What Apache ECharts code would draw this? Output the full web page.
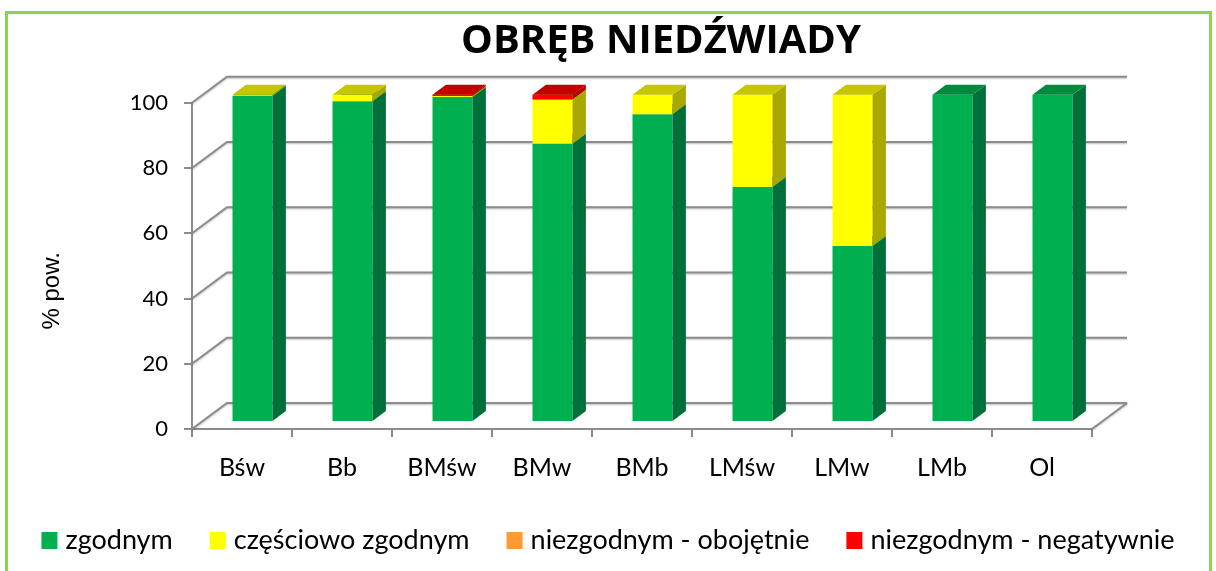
<!DOCTYPE html>
<html>
<head>
<meta charset="utf-8">
<script src="https://cdn.jsdelivr.net/npm/echarts@6/dist/echarts.min.js"></script>
<style>
  html, body { margin: 0; padding: 0; background: #fff; }
  #chart { width: 1216px; height: 571px; }
</style>
</head>
<body>
<div id="chart"></div>
<script>
// Forest site types and the share of area (%) by habitat compatibility
const categories = ['Bśw', 'Bb', 'BMśw', 'BMw', 'BMb', 'LMśw', 'LMw', 'LMb', 'Ol'];
const zgodnym    = [99.7, 98.0, 99.3, 85.0, 94.0, 71.7, 53.6, 100, 100];
const czesciowo  = [0.3, 2.0, 0.3, 13.55, 6.0, 28.3, 46.4, 0, 0];
const obojetnie  = [0, 0, 0, 0, 0, 0, 0, 0, 0];
const negatywnie = [0, 0, 0.4, 1.45, 0, 0, 0, 0, 0];
const yTicks = [0, 20, 40, 60, 80, 100];

const seriesNames = ['zgodnym', 'częściowo zgodnym', 'niezgodnym - obojętnie', 'niezgodnym - negatywnie'];
const seriesValues = [zgodnym, czesciowo, obojetnie, negatywnie];

// face colours: front, side, top
const palettes = [
  { front: '#00B050', side: '#00703A', top: '#008A3E' },
  { front: '#FFFF00', side: '#A8A800', top: '#C6C600' },
  { front: '#FF9933', side: '#B06A22', top: '#CC7A29' },
  { front: '#FF0000', side: '#B00000', top: '#C20000' }
];

// pseudo-3D geometry
const DEPTH_X = 35, DEPTH_Y = -26;        // floor / wall depth
const FRONT_X = 10.5, FRONT_Y = -8;       // bar front face offset into the depth
const SIDE_X = 13.4, SIDE_Y = -10;        // bar thickness
const GRID_COLOR = '#8C8C8C';

// cumulative stacking
const stacked = [];
const running = categories.map(() => 0);
seriesValues.forEach((vals) => {
  stacked.push(vals.map((v, i) => {
    const lo = running[i];
    running[i] += v;
    return [i, lo, running[i]];
  }));
});

function barRenderer(pal) {
  return function (params, api) {
    const lo = api.value(1), hi = api.value(2);
    if (!(hi - lo > 0)) return;
    const c = api.value(0);
    const pLo = api.coord([c, lo]);
    const pHi = api.coord([c, hi]);
    const bw = api.size([1, 0])[0] * 0.4;
    const x0 = pLo[0] + FRONT_X - bw / 2;
    const x1 = x0 + bw;
    const yLo = pLo[1] + FRONT_Y;
    const yHi = pHi[1] + FRONT_Y;
    return {
      type: 'group',
      children: [
        { type: 'rect', shape: { x: x0, y: yHi, width: bw, height: yLo - yHi },
          style: { fill: pal.front } },
        { type: 'polygon', shape: { points: [[x1, yLo], [x1 + SIDE_X, yLo + SIDE_Y], [x1 + SIDE_X, yHi + SIDE_Y], [x1, yHi]] },
          style: { fill: pal.side } },
        { type: 'polygon', shape: { points: [[x0, yHi], [x1, yHi], [x1 + SIDE_X, yHi + SIDE_Y], [x0 + SIDE_X, yHi + SIDE_Y]] },
          style: { fill: pal.top } }
      ]
    };
  };
}

// walls and floor: each tick runs along the side wall then across the back wall
function wallRenderer(params, api) {
  const cs = params.coordSys;
  const v = api.value(1);
  const y = api.coord([0, v])[1];
  const x0 = cs.x, x1 = cs.x + cs.width;
  const lineStyle = { stroke: GRID_COLOR, lineWidth: 2, fill: null,
    shadowBlur: 2, shadowColor: 'rgba(0,0,0,0.25)', shadowOffsetY: 1 };
  const children = [{
    type: 'polyline',
    shape: { points: [[x0, y], [x0 + DEPTH_X, y + DEPTH_Y], [x1 + DEPTH_X, y + DEPTH_Y]] },
    style: lineStyle
  }];
  if (v === 0) {
    children.push({ type: 'line',
      shape: { x1: x1, y1: y, x2: x1 + DEPTH_X, y2: y + DEPTH_Y }, style: lineStyle });
  }
  return { type: 'group', children };
}

const chart = echarts.init(document.getElementById('chart'), null, { renderer: 'canvas' });

const series = [{
  type: 'custom',
  name: '__walls',
  silent: true,
  renderItem: wallRenderer,
  data: yTicks.map((v) => [0, v]),
  encode: { x: 0, y: 1 },
  z: 1
}];
seriesNames.forEach((name, k) => {
  series.push({
    type: 'custom',
    name: name,
    renderItem: barRenderer(palettes[k]),
    data: stacked[k],
    encode: { x: 0, y: [1, 2] },
    itemStyle: { color: palettes[k].front },
    z: 2 + k
  });
});

chart.setOption({
  animation: false,
  backgroundColor: '#fff',
  title: {
    text: 'OBRĘB NIEDŹWIADY',
    left: 656,
    top: 17,
    textAlign: 'center',
    textStyle: { fontFamily: 'Open Sans', fontWeight: 'bold', fontSize: 40, color: '#000' }
  },
  graphic: [{
    type: 'rect',
    shape: { x: 6.5, y: 12.5, width: 1204, height: 600 },
    style: { fill: null, stroke: '#92D050', lineWidth: 3 },
    silent: true,
    z: 100
  }],
  legend: {
    data: seriesNames,
    left: 'center',
    top: 522,
    icon: 'rect',
    itemWidth: 16,
    itemHeight: 17,
    itemGap: 37,
    selectedMode: false,
    textStyle: { fontFamily: 'Lato', fontSize: 27, color: '#000', padding: [0, 0, 0, 3] }
  },
  grid: { left: 192, right: 124, top: 102.7, bottom: 142, containLabel: false },
  xAxis: {
    type: 'category',
    data: categories,
    axisLine: { lineStyle: { color: GRID_COLOR, width: 2 } },
    axisTick: { show: true, alignWithLabel: false, length: 8, lineStyle: { color: GRID_COLOR, width: 2 } },
    axisLabel: { fontFamily: 'Lato', fontSize: 25, color: '#000', margin: 26 },
    splitLine: { show: false }
  },
  yAxis: {
    type: 'value',
    min: 0,
    max: 100,
    interval: 20,
    name: '% pow.',
    nameLocation: 'middle',
    nameRotate: 90,
    nameGap: 128,
    nameTextStyle: { fontFamily: 'Liberation Sans', fontSize: 24, color: '#000', padding: [0, 50, 0, 0] },
    axisLine: { show: true, lineStyle: { color: GRID_COLOR, width: 2 } },
    axisTick: { show: true, length: 8, lineStyle: { color: GRID_COLOR, width: 2 } },
    axisLabel: { fontFamily: 'Lato', fontSize: 22, color: '#000', margin: 24 },
    splitLine: { show: false }
  },
  series: series
});
</script>
</body>
</html>
